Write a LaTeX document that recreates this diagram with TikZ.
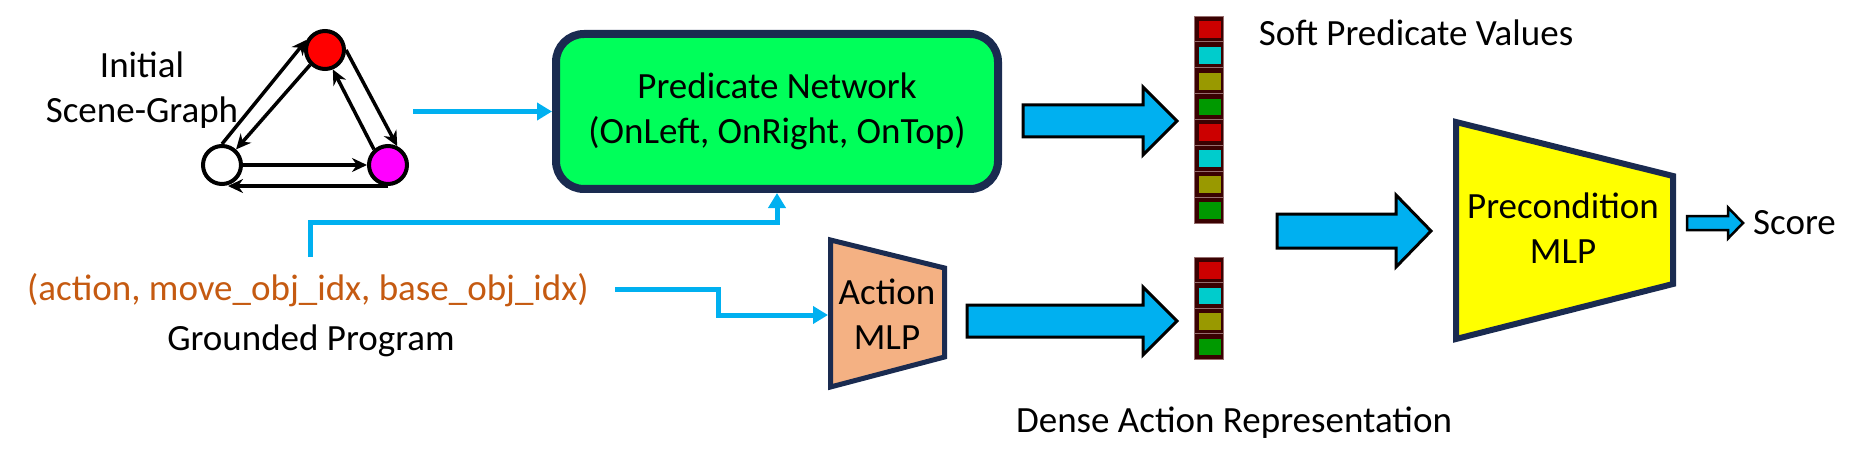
\documentclass[tikz,border=0pt]{standalone}
\usepackage{fontspec}
\setmainfont{Carlito}
\usetikzlibrary{arrows.meta}
\definecolor{skyb}{RGB}{0,176,240}
\definecolor{navy}{RGB}{26,43,80}
\definecolor{predgreen}{RGB}{0,255,90}
\definecolor{progorange}{RGB}{197,90,17}
\definecolor{mlpor}{RGB}{244,177,131}
\definecolor{vdark}{RGB}{58,2,2}
\definecolor{vline}{RGB}{150,110,110}
\definecolor{vred}{RGB}{204,0,0}
\definecolor{vcyan}{RGB}{0,204,204}
\definecolor{volive}{RGB}{153,153,0}
\definecolor{vgreen}{RGB}{0,153,0}
\definecolor{objred}{RGB}{255,0,0}
\definecolor{objmag}{RGB}{255,0,255}
\definecolor{mlpyellow}{RGB}{255,255,0}
\newcommand{\blockarr}[7][]{\draw[blockarrow,#1] (#2,{#5-#6}) -- (#3,{#5-#6}) -- (#3,{#5-#7}) -- (#4,#5) -- (#3,{#5+#7}) -- (#3,{#5+#6}) -- (#2,{#5+#6}) -- cycle;}
\begin{document}
\begin{tikzpicture}[x=1pt,y=-1pt,
  font=\fontsize{37}{45}\selectfont,
  lbl/.style={inner sep=0, anchor=base},
  obj/.style={circle, draw=black, line width=4, minimum size=38, inner sep=0},
  sg/.style={line width=3.5, -{Stealth[length=15pt,width=14pt]}},
  feed/.style={draw=skyb, line width=5, -{Triangle[length=15pt,width=17pt]}},
  blockarrow/.style={draw=black, line width=3, fill=skyb, line join=miter},
  mlpshape/.style={draw=navy, line width=5, line join=miter}]
\useasboundingbox (0,0) rectangle (1859,465);

% scene graph
\node[obj, fill=objred] (r) at (325,50) {};
\node[obj, fill=white] (w) at (222,165) {};
\node[obj, fill=objmag] (m) at (388,165) {};
\draw[sg] (w.90) -- (r.151);
\draw[sg] (r.225) -- (w.48);
\draw[sg] (r.0) -- (m.64);
\draw[sg] (m.132) -- (r.292);
\draw[sg] (w.0) -- (m.180);
\draw[sg] (m.south) -- ([xshift=6pt]w.south);
\node[inner sep=0, align=center] (sglbl) at (142,90) {Initial\\Scene-Graph};

% predicate network
\node[draw=navy, fill=predgreen, line width=8, rounded corners=28, minimum width=442, minimum height=155, inner sep=0, align=center] (pred) at (777,111.5) {Predicate Network\\(OnLeft, OnRight, OnTop)};
\coordinate (sgout) at (413,111.5);
\draw[feed] (sgout) -- (pred.west);

% grounded program
\node[lbl, text=progorange] (prog) at (308,300) {(action, move\_obj\_idx, base\_obj\_idx)};
\node[lbl] (gp) at (311,350) {Grounded Program};
\coordinate (ptop) at (310,257);
\draw[feed] (ptop) -- ++(0,-35) -| (pred.south);

% action MLP
\draw[mlpshape, fill=mlpor] (830.5,240) -- (944.5,268) -- (944.5,357) -- (830.5,387) -- cycle;
\node[inner sep=0, align=center] (amlp) at (887,314) {Action\\MLP};
\coordinate (pright) at (615,289);
\coordinate (aw) at (828,315);
\draw[feed] (pright) -- ++(103,0) |- (aw);

% block arrows
\blockarr{1023}{1143}{1177}{121}{16}{34}
\blockarr{967}{1143}{1177}{321}{16}{34}
\blockarr{1277}{1396}{1431}{231}{17}{36}
\blockarr[line width=2.5]{1687}{1728}{1743}{223}{7}{15.5}

% vectors
\foreach \i/\c in {0/vred,1/vcyan,2/volive,3/vgreen,4/vred,5/vcyan,6/volive,7/vgreen} {
  \pgfmathsetmacro\ya{16+\i*25.875}
  \pgfmathsetmacro\yb{\ya+25.875}
  \fill[vdark] (1194,\ya) rectangle (1223,\yb);
  \draw[vline, line width=0.8] (1194,\ya) rectangle (1223,\yb);
  \fill[\c] (1199,{\ya+5}) rectangle (1221,{\yb-4});
}
\foreach \i/\c in {0/vred,1/vcyan,2/volive,3/vgreen} {
  \pgfmathsetmacro\ya{257+\i*25.5}
  \pgfmathsetmacro\yb{\ya+25.5}
  \fill[vdark] (1194,\ya) rectangle (1223,\yb);
  \draw[vline, line width=0.8] (1194,\ya) rectangle (1223,\yb);
  \fill[\c] (1199,{\ya+5}) rectangle (1221,{\yb-4});
}
\node[lbl] (soft) at (1416,46) {Soft Predicate Values};
\node[lbl] (dense) at (1234,432) {Dense Action Representation};

% precondition MLP
\draw[mlpshape, line width=6, fill=mlpyellow] (1456,122) -- (1673,176) -- (1673,284) -- (1456,339) -- cycle;
\node[inner sep=0, align=center] (pmlp) at (1563,228) {Precondition\\MLP};
\node[lbl, anchor=base west] (score) at (1753,234) {Score};
\end{tikzpicture}
\end{document}
